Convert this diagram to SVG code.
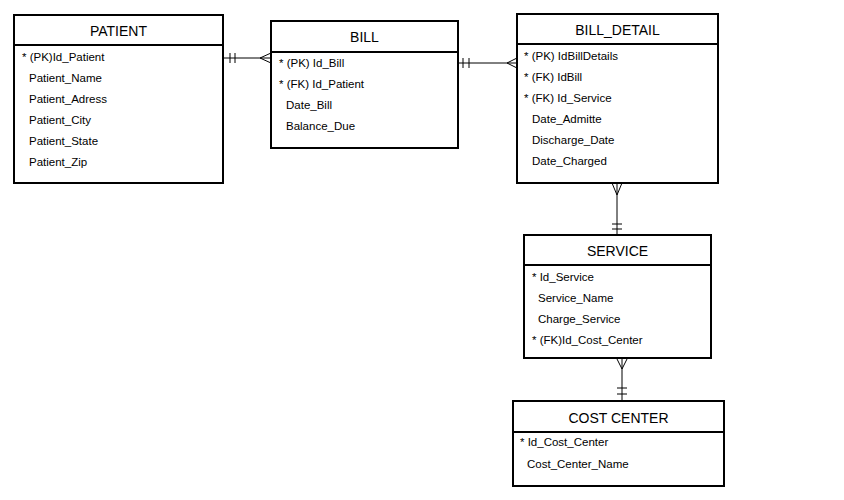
<svg xmlns="http://www.w3.org/2000/svg" width="844" height="500" viewBox="0 0 844 500">
<style>
.box{fill:#fff;stroke:#000;stroke-width:2}
.div{stroke:#000;stroke-width:2}
.t{font-family:"Liberation Sans",Arial,sans-serif;font-size:14px;text-anchor:middle;fill:#000}
.a{font-family:"Liberation Sans",Arial,sans-serif;font-size:11.5px;fill:#000}
.c{stroke:#000;stroke-width:1;fill:none}
</style>
<rect width="844" height="500" fill="#fff"/>
<g id="connectors">
<path class="c" d="M223,58H271M230,53V63M235,53V63M260,58L271,53M260,58L271,63"/>
<path class="c" d="M458,63H517M463,58V68M469,58V68M507,63L517,58M507,63L517,68"/>
<path class="c" d="M617,183V235M612,224H622M612,229H622M617,195L612,183M617,195L622,183"/>
<path class="c" d="M622,358V401M617,388H627M617,394H627M622,369L617,359M622,369L627,359"/>
</g>
<g id="patient">
<rect class="box" x="14" y="15" width="209" height="168"/>
<line class="div" x1="14" y1="45" x2="223" y2="45"/>
<text class="t" x="118.5" y="36">PATIENT</text>
<text class="a" x="22" y="61">* (PK)Id_Patient</text>
<text class="a" x="29" y="82">Patient_Name</text>
<text class="a" x="29" y="103">Patient_Adress</text>
<text class="a" x="29" y="124">Patient_City</text>
<text class="a" x="29" y="145">Patient_State</text>
<text class="a" x="29" y="166">Patient_Zip</text>
</g>
<g id="bill">
<rect class="box" x="271" y="21" width="187" height="127"/>
<line class="div" x1="271" y1="52" x2="458" y2="52"/>
<text class="t" x="364.5" y="42">BILL</text>
<text class="a" x="279" y="67">* (PK) Id_Bill</text>
<text class="a" x="279" y="88">* (FK) Id_Patient</text>
<text class="a" x="286" y="109">Date_Bill</text>
<text class="a" x="286" y="130">Balance_Due</text>
</g>
<g id="bill_detail">
<rect class="box" x="517" y="14" width="201" height="169"/>
<line class="div" x1="517" y1="44" x2="718" y2="44"/>
<text class="t" x="617.5" y="35">BILL_DETAIL</text>
<text class="a" x="524" y="60">* (PK) IdBillDetails</text>
<text class="a" x="524" y="81">* (FK) IdBill</text>
<text class="a" x="524" y="102">* (FK) Id_Service</text>
<text class="a" x="532" y="123">Date_Admitte</text>
<text class="a" x="532" y="144">Discharge_Date</text>
<text class="a" x="532" y="165">Date_Charged</text>
</g>
<g id="service">
<rect class="box" x="524" y="235" width="187" height="123"/>
<line class="div" x1="524" y1="265" x2="711" y2="265"/>
<text class="t" x="617.5" y="256">SERVICE</text>
<text class="a" x="532" y="281">* Id_Service</text>
<text class="a" x="538" y="302">Service_Name</text>
<text class="a" x="538" y="323">Charge_Service</text>
<text class="a" x="532" y="344">* (FK)Id_Cost_Center</text>
</g>
<g id="cost_center">
<rect class="box" x="513" y="401" width="211" height="85"/>
<line class="div" x1="513" y1="432" x2="724" y2="432"/>
<text class="t" x="618.5" y="423">COST CENTER</text>
<text class="a" x="520" y="446">* Id_Cost_Center</text>
<text class="a" x="527" y="468">Cost_Center_Name</text>
</g>
</svg>
